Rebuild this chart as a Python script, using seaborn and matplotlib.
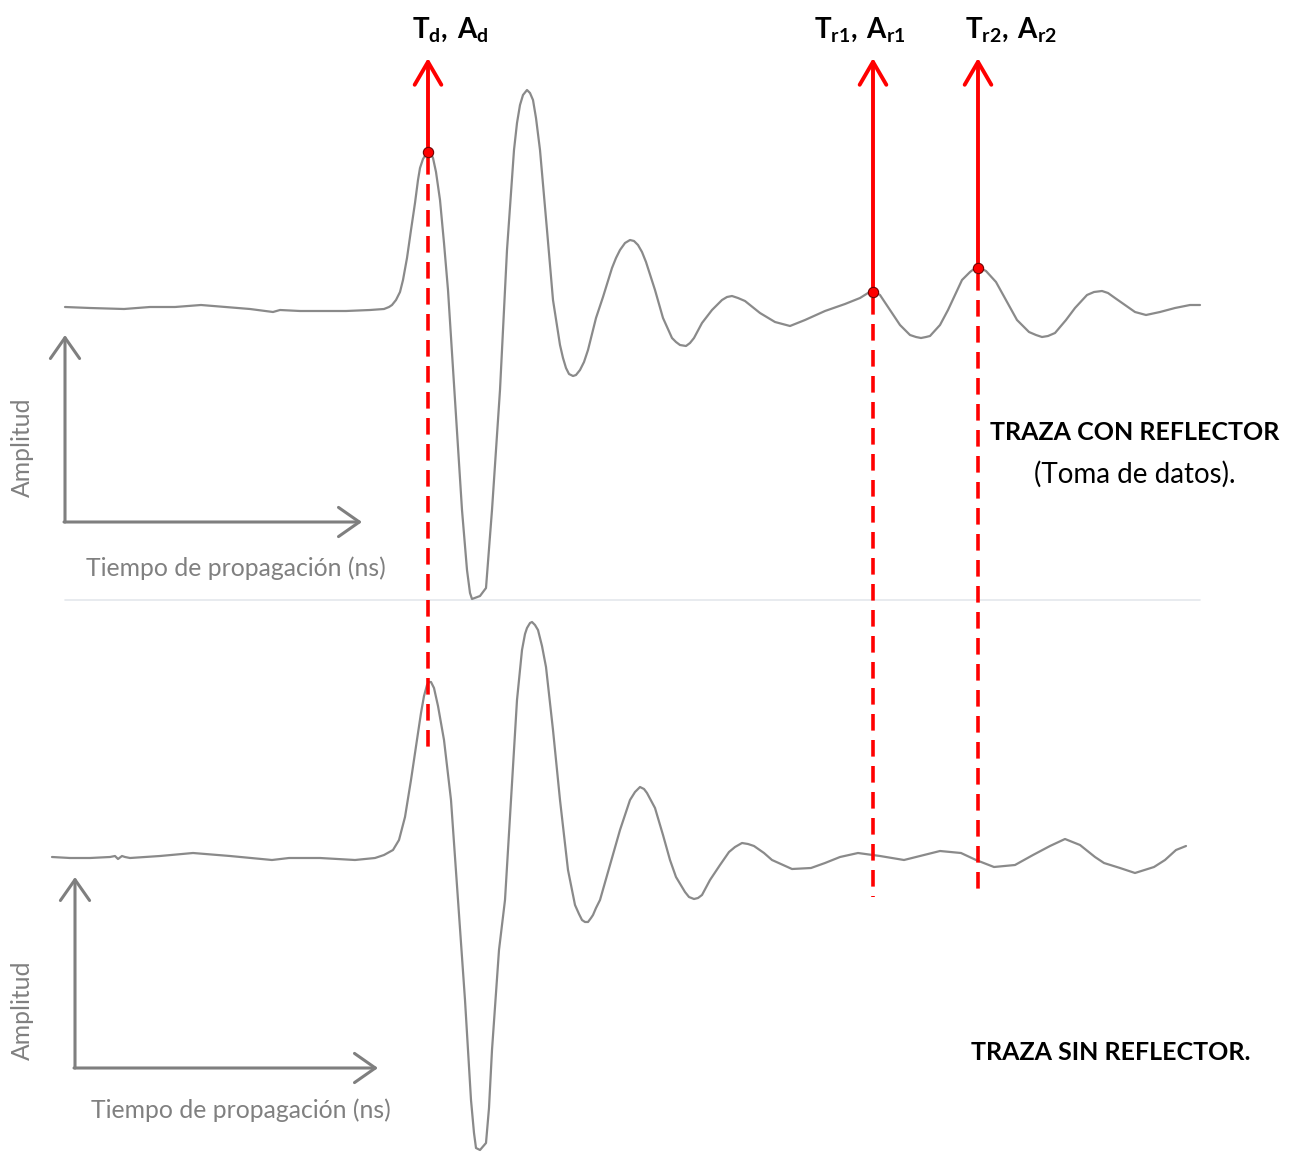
import pandas as pd
import matplotlib.pyplot as plt
import seaborn as sns

# --- traza con reflector (tiempo en ns, amplitud en unidades arbitrarias) ---
t_con = [6.5, 9.0, 12.4, 15.0, 17.5, 20.1, 22.5, 25.0, 27.3, 28.0, 30.0, 34.6, 37.0, 38.4,
         38.9, 39.2, 39.6, 40.0, 40.3, 40.7, 41.1, 41.5, 41.8, 42.0, 42.3, 42.55, 42.8, 43.05,
         43.3, 43.6, 44.0, 44.4, 44.8, 45.5, 46.2, 46.7, 47.0, 47.2,
         48.0, 48.6, 49.2, 50.0, 50.7, 51.4, 51.7, 52.0, 52.3, 52.7, 53.0, 53.3, 53.6, 54.0,
         54.7, 55.3, 56.0, 56.3, 56.6, 56.9, 57.3, 57.6, 58.0, 58.4, 58.8, 59.6, 60.3, 61.2,
         61.6, 62.0, 62.5, 63.0, 63.4, 63.8, 64.2, 64.6, 65.5, 66.3, 67.2, 67.6, 68.0,
         68.6, 69.0, 69.4, 70.2, 71.2, 72.2, 72.7, 73.2, 73.8, 74.5, 76.0, 77.5, 79.0, 80.5,
         82.5, 84.5, 86.0, 86.8, 87.3, 88.0, 89.0, 90.0, 91.0, 91.6, 92.1, 92.6, 93.0, 94.0,
         94.8, 95.5, 96.2, 97.0, 97.4, 97.8, 98.2, 98.6, 99.6, 100.6, 101.7, 102.9, 103.6,
         104.2, 104.8, 105.5, 106.6, 107.5, 108.7, 109.4, 110.2, 110.8, 111.5,
         112.5, 113.5, 114.6, 116.0, 117.5, 119.0, 120.0]
a_con = [1, 0, -1, 1, 1, 3, 1, -1, -4, -2, -3, -3, -2, -1,
         1, 3, 8, 16, 28, 50, 78, 105, 128, 140, 149, 153, 156, 155,
         150, 136, 108, 65, 18, -92, -202, -262, -285, -291,
         -288, -280, -202, -82, 58, 158, 185, 203, 213, 218, 215, 208, 190, 158,
         78, 8, -37, -50, -60, -66, -68, -67, -62, -54, -42, -10, 11, 40,
         50, 58, 65, 68, 67, 63, 56, 46, 18, -10, -30, -34, -37,
         -38, -35, -30, -15, -2, 8, 11, 12, 10, 7, -5, -14, -18, -12,
         -3, 4, 10, 15, 17, 13, -2, -17, -27, -29, -30, -29, -28, -17,
         -2, 13, 28, 36, 39, 40, 39, 37, 26, 8, -12, -24, -27,
         -29, -28, -25, -12, 0, 13, 16, 17, 15, 10,
         3, -4, -7, -4, 0, 3, 3]

# --- traza sin reflector ---
t_sin = [5.2, 7.0, 9.0, 11.0, 11.5, 11.8, 12.2, 12.5, 13.0, 16.0, 19.3, 23.0, 27.2, 28.9,
         32.0, 35.5, 37.5, 38.4, 39.3, 39.9, 40.5, 41.1, 41.8, 42.1, 42.4, 42.7, 42.9, 43.1,
         43.4, 43.8, 44.4, 45.1, 45.8, 46.5, 47.1, 47.4, 47.6, 48.0, 48.6, 48.9, 49.2, 49.9,
         50.5, 51.1, 51.7, 52.2, 52.5, 52.7, 53.0, 53.2, 53.5, 53.8, 54.2, 54.6, 55.3, 56.0,
         56.8, 57.5, 57.9, 58.2, 58.5, 58.8, 59.1, 59.3, 59.6, 60.0, 61.0, 62.0, 63.0, 63.5,
         64.0, 64.4, 64.7, 65.5, 66.3, 67.0, 67.6, 68.5, 68.9, 69.4, 69.8, 70.2, 71.0, 72.0,
         72.9, 73.5, 74.2, 74.8, 75.4, 76.4, 77.2, 79.2, 81.1, 82.5, 84.0, 85.8, 88.0, 90.4,
         92.0, 94.0, 96.1, 97.6, 99.4, 101.5, 103.3, 105.0, 106.5, 108.0, 109.5, 110.4, 112.0,
         113.5, 115.4, 116.5, 117.6, 118.6]
a_sin = [1, 0, 0, 1, 2, -1, 2, 1, 0, 2, 5, 2, -2, 0,
         0, -2, 0, 3, 8, 18, 41, 78, 125, 145, 162, 173, 176, 176,
         170, 152, 118, 58, -42, -142, -242, -275, -290, -292, -285, -250, -192, -92,
         -42, 58, 158, 208, 224, 230, 235, 236, 233, 228, 212, 191, 128, 58,
         -12, -47, -56, -62, -64, -64, -60, -57, -50, -42, -7, 28, 58, 66,
         71, 69, 65, 50, 23, -2, -19, -34, -39, -41, -40, -37, -22, -7,
         6, 11, 15, 14, 12, 5, -2, -11, -10, -5, 1, 5, 2, -2,
         2, 7, 5, -2, -9, -7, 3, 12, 19, 13, 1, -5, -10,
         -15, -9, -2, 8, 12]

# --- picados (tiempo, amplitud) ---
picks_t = [42.8, 87.3, 97.8]
picks_a = [156, 16, 40]
picks_lbl = [r'$\mathbf{T_{d},\,A_{d}}$', r'$\mathbf{T_{r1},\,A_{r1}}$', r'$\mathbf{T_{r2},\,A_{r2}}$']

sns.set_theme(style='white')
plt.rcParams['font.family'] = ['Lato', 'DejaVu Sans']
plt.rcParams['mathtext.fontset'] = 'custom'
plt.rcParams['mathtext.rm'] = 'Lato'
plt.rcParams['mathtext.bf'] = 'Lato:bold'

W, H = 1292, 1153
GRIS = '#8a8a8a'


def px(x, y):
    # pixel -> fracción de figura
    return (x / W, 1 - y / H)


fig = plt.figure(figsize=(W / 100, H / 100), dpi=100)
ax = fig.add_axes([0, 0, 1, 1])
ax.set_xlim(0, 129.2)
ax.set_ylim(-845, 308)
ax.axis('off')

desfase = -550  # separación vertical entre las dos trazas
df = pd.concat([
    pd.DataFrame({'t': t_con, 'a': a_con, 'traza': 'con'}),
    pd.DataFrame({'t': t_sin, 'a': [v + desfase for v in a_sin], 'traza': 'sin'}),
])
sns.lineplot(data=df, x='t', y='a', hue='traza', palette=[GRIS, GRIS], lw=1.6,
             sort=False, estimator=None, legend=False, ax=ax)

# linea separadora
ax.plot([6.5, 120], [-292, -292], color='#e4e8ec', lw=1.2, zorder=0)

# flechas rojas y lineas discontinuas
fin_disc = [-444, -589, -589]
for t, a, fin in zip(picks_t, picks_a, fin_disc):
    ax.annotate('', xy=(t, 250), xytext=(t, a),
                arrowprops=dict(arrowstyle='->,head_length=0.55,head_width=0.32',
                                color='red', lw=2.8, mutation_scale=30,
                                shrinkA=0, shrinkB=0))
    ax.plot([t, t], [a - 6, fin], color='red', lw=2.6, ls=(0, (4.6, 2.6)), zorder=3)
ax.scatter(picks_t, picks_a, s=55, color='red', edgecolor='#700000', lw=0.8, zorder=5)

for lbl, x in zip(picks_lbl, [412, 814, 965]):
    fig.text(*px(x, 30), lbl, ha='left', va='center', fontsize=20, color='black')

# ejes dibujados (flechas grises)
flecha = dict(arrowstyle='->,head_length=0.5,head_width=0.35', color='#7f7f7f', lw=2.2,
              mutation_scale=30, shrinkA=0, shrinkB=0)
for (x0, y0), top, right in [((65, 522), 335, 362), ((75, 1068), 877, 378)]:
    ax.annotate('', xy=px(x0, top), xytext=px(x0 + 0.01, y0),
                xycoords='figure fraction', textcoords='figure fraction', arrowprops=flecha)
    ax.annotate('', xy=px(right, y0), xytext=px(x0 - 1, y0),
                xycoords='figure fraction', textcoords='figure fraction', arrowprops=flecha)

fs_ejes = 17.8
fig.text(*px(22, 447), 'Amplitud', rotation=90, ha='center', va='center', fontsize=fs_ejes, color='#808080')
fig.text(*px(236, 568), 'Tiempo de propagación (ns)', ha='center', va='center', fontsize=fs_ejes, color='#808080')
fig.text(*px(22, 1010), 'Amplitud', rotation=90, ha='center', va='center', fontsize=fs_ejes, color='#808080')
fig.text(*px(241, 1110), 'Tiempo de propagación (ns)', ha='center', va='center', fontsize=fs_ejes, color='#808080')

fig.text(*px(1135, 432), 'TRAZA CON REFLECTOR', ha='center', va='center', fontsize=18,
         fontweight='bold', color='black')
fig.text(*px(1135, 474), '(Toma de datos).', ha='center', va='center', fontsize=20, color='black')
fig.text(*px(1111, 1053), 'TRAZA SIN REFLECTOR.', ha='center', va='center', fontsize=18,
         fontweight='bold', color='black')

fig.savefig('out.png', dpi=100)
